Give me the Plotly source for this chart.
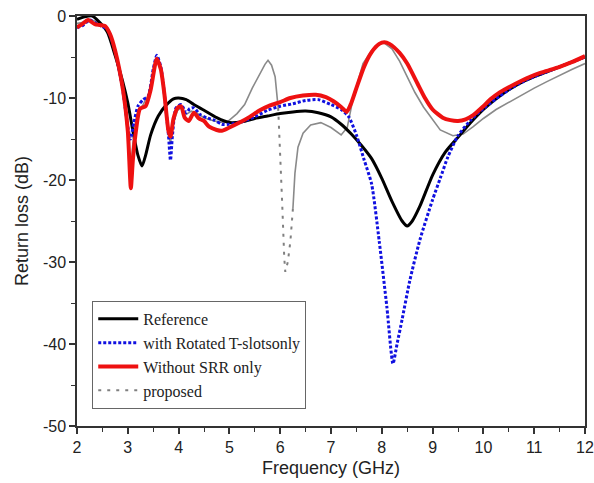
import numpy as np
import plotly.graph_objects as go

# ---------------- data ----------------
ref_f = [2.0, 2.15, 2.3, 2.45, 2.6, 2.75, 2.9, 3.0, 3.1, 3.2, 3.28, 3.35, 3.45, 3.6, 3.75, 3.9, 4.0,
         4.15, 4.3, 4.5, 4.75, 5.0, 5.25, 5.5, 5.75, 6.0, 6.25, 6.5, 6.75, 7.0, 7.2, 7.4, 7.6, 7.8,
         8.0, 8.2, 8.4, 8.5, 8.6, 8.75, 9.0, 9.25, 9.5, 9.75, 10.0, 10.25, 10.5, 10.75, 11.0, 11.25,
         11.5, 11.75, 12.0]
ref_db = [-0.4, -0.1, 0.0, -0.8, -2.0, -4.8, -8.0, -10.6, -14.0, -17.0, -18.3, -17.0, -14.5, -12.2,
          -10.9, -10.1, -10.0, -10.2, -10.8, -11.5, -12.4, -13.0, -12.9, -12.5, -12.2, -11.9, -11.7,
          -11.6, -11.8, -12.3, -13.2, -14.4, -15.8, -17.4, -19.8, -22.6, -25.0, -25.6, -25.0, -23.2,
          -19.4, -16.6, -14.8, -13.0, -11.4, -10.1, -9.0, -8.1, -7.4, -6.8, -6.2, -5.6, -5.0]

tslot_f = [2.0, 2.1, 2.25, 2.35, 2.5, 2.6, 2.75, 2.9, 3.0, 3.05, 3.12, 3.2, 3.3, 3.4, 3.5, 3.57, 3.65,
           3.72, 3.8, 3.84, 3.88, 3.95, 4.05, 4.15, 4.22, 4.3, 4.42, 4.55, 4.7, 4.85, 5.0, 5.2, 5.5,
           5.75, 6.0, 6.25, 6.5, 6.75, 7.0, 7.2, 7.35, 7.5, 7.65, 7.8, 7.95, 8.1, 8.22, 8.3, 8.4, 8.55,
           8.75, 9.0, 9.15, 9.3, 9.5, 9.75, 10.0, 10.25, 10.5, 10.75, 11.0, 11.25, 11.5, 11.75, 12.0]
tslot_db = [-1.4, -1.2, -0.5, -0.8, -1.3, -1.6, -4.3, -9.0, -13.5, -15.0, -13.0, -11.0, -10.2, -9.8,
            -6.5, -4.8, -6.2, -9.5, -14.5, -17.6, -14.5, -11.2, -10.8, -11.8, -11.3, -11.2, -12.0,
            -12.4, -12.7, -13.2, -13.2, -13.0, -12.3, -11.5, -11.0, -10.7, -10.3, -10.2, -10.8, -11.4,
            -12.3, -14.5, -17.5, -20.5, -27.5, -35.5, -42.4, -40.0, -37.0, -32.3, -27.3, -22.4, -19.8,
            -17.2, -14.6, -12.7, -11.3, -10.1, -9.0, -8.1, -7.4, -6.8, -6.2, -5.6, -5.0]

nosrr_f = [2.0, 2.1, 2.22, 2.35, 2.45, 2.55, 2.65, 2.75, 2.9, 3.0, 3.06, 3.1, 3.15, 3.24, 3.35, 3.45,
           3.57, 3.65, 3.72, 3.8, 3.84, 3.9, 3.98, 4.05, 4.12, 4.2, 4.3, 4.4, 4.5, 4.6, 4.75, 4.85, 5.0,
           5.2, 5.4, 5.6, 5.8, 6.0, 6.2, 6.45, 6.7, 6.9, 7.05, 7.2, 7.31, 7.4, 7.5, 7.65, 7.8, 7.95,
           8.05, 8.15, 8.35, 8.5, 8.7, 8.85, 9.0, 9.2, 9.35, 9.5, 9.65, 9.8, 10.0, 10.15, 10.3, 10.5,
           10.75, 11.0, 11.25, 11.5, 11.75, 12.0]
nosrr_db = [-1.4, -1.0, -0.5, -1.0, -1.1, -1.2, -2.2, -4.2, -8.8, -14.0, -21.0, -17.5, -14.5, -11.3,
            -11.0, -9.0, -5.2, -6.5, -9.5, -14.0, -14.7, -12.5, -11.2, -11.0, -12.4, -12.8, -11.8,
            -12.5, -12.8, -13.5, -13.9, -14.0, -13.6, -13.0, -12.3, -11.5, -10.9, -10.5, -10.0, -9.7,
            -9.6, -9.9, -10.4, -11.1, -11.7, -10.6, -8.8, -6.2, -4.4, -3.4, -3.2, -3.4, -4.5, -5.8,
            -8.2, -10.0, -11.4, -12.4, -12.7, -12.8, -12.6, -12.1, -11.0, -10.1, -9.4, -8.7, -7.9,
            -7.2, -6.7, -6.2, -5.6, -4.9]

prop_f = [2.0, 2.1, 2.2, 2.35, 2.5, 2.6, 2.75, 2.9, 3.0, 3.05, 3.1, 3.18, 3.3, 3.4, 3.5, 3.57, 3.65,
          3.72, 3.8, 3.84, 3.9, 3.98, 4.05, 4.15, 4.25, 4.35, 4.5, 4.7, 4.9, 5.0, 5.15, 5.3, 5.45,
          5.6, 5.7, 5.76, 5.83, 5.9, 5.96, 6.0, 6.04, 6.08, 6.1, 6.15, 6.2, 6.25, 6.29, 6.35, 6.45,
          6.6, 6.8, 7.0, 7.2, 7.32, 7.42, 7.52, 7.63, 7.8, 7.95, 8.05, 8.2, 8.35, 8.5, 8.65, 8.82,
          9.0, 9.15, 9.4, 9.6, 9.8, 10.0, 10.25, 10.5, 10.75, 11.0, 11.25, 11.5, 11.75, 12.0]
prop_db = [-0.9, -0.8, -0.4, -0.6, -1.2, -1.6, -4.6, -9.2, -14.5, -19.8, -15.5, -12.0, -10.8, -9.7,
           -7.0, -5.3, -6.5, -9.5, -14.5, -15.5, -13.0, -11.5, -11.2, -12.0, -11.6, -11.8, -12.4,
           -12.8, -13.0, -12.7, -11.9, -10.8, -8.8, -7.0, -5.9, -5.4, -6.0, -7.4, -11.2, -16.5,
           -23.0, -29.5, -31.2, -30.0, -27.5, -23.5, -19.2, -16.0, -14.3, -13.3, -13.0, -13.6,
           -14.5, -13.6, -10.5, -8.2, -5.8, -4.2, -3.4, -3.3, -4.0, -5.5, -7.4, -9.3, -11.1, -12.7,
           -13.9, -14.6, -14.4, -13.5, -12.5, -11.4, -10.5, -9.6, -8.8, -8.0, -7.2, -6.5, -5.8]

names = ["Reference", "with Rotated\u2009T-slotsonly", "Without SRR only", "proposed"]
x_ticks = [2, 3, 4, 5, 6, 7, 8, 9, 10, 11, 12]
y_ticks = [0, -10, -20, -30, -40, -50]

# ---------------- figure ----------------
pf = np.array(prop_f)
pd_ = np.array(prop_db, dtype=float)
notch = (pf >= 5.96) & (pf <= 6.25)
solid_db = np.where(notch & ~((pf == 5.96) | (pf == 6.25)), np.nan, pd_)
notch_f = pf[notch]
notch_db = pd_[notch]

fig = go.Figure()
fig.add_trace(go.Scatter(x=pf, y=solid_db, mode="lines", showlegend=False,
                         line=dict(color="#8a8a8a", width=1.6), connectgaps=False))
fig.add_trace(go.Scatter(x=ref_f, y=ref_db, mode="lines", name=names[0], legendrank=1,
                         line=dict(color="black", width=3, shape="spline", smoothing=0.6)))
fig.add_trace(go.Scatter(x=tslot_f, y=tslot_db, mode="lines", name=names[1], legendrank=2,
                         line=dict(color="#1010e0", width=3, dash="3px,2px", shape="spline", smoothing=0.6)))
fig.add_trace(go.Scatter(x=nosrr_f, y=nosrr_db, mode="lines", name=names[2], legendrank=3,
                         line=dict(color="#ee1111", width=4, shape="spline", smoothing=0.6)))
fig.add_trace(go.Scatter(x=notch_f, y=notch_db, mode="lines", name=names[3], legendrank=4,
                         line=dict(color="#808080", width=2, dash="3px,6px")))

axis_common = dict(showgrid=False, zeroline=False, showline=True, mirror=True, automargin=False,
                   linecolor="#333333", linewidth=1.5, ticks="outside", ticklen=6,
                   tickwidth=1.5, tickcolor="#333333",
                   tickfont=dict(family="Liberation Sans, Arial", size=16, color="#222222"))

fig.update_xaxes(range=[2, 12], tickvals=x_ticks, ticktext=[str(v) for v in x_ticks],
                 minor=dict(ticks="outside", ticklen=4, tickwidth=1.2, tickcolor="#333333", dtick=0.5),
                 title=dict(text="Frequency (GHz)", standoff=6,
                            font=dict(family="Liberation Sans, Arial", size=18, color="#222222")),
                 **axis_common)
fig.update_yaxes(range=[-50, 0], tickvals=y_ticks, ticktext=[str(v) for v in y_ticks],
                 minor=dict(ticks="outside", ticklen=4, tickwidth=1.2, tickcolor="#333333", dtick=5),
                 title=dict(text="Return loss (dB)", standoff=10,
                            font=dict(family="Liberation Sans, Arial", size=18, color="#222222")),
                 **axis_common)

fig.update_layout(
    width=594, height=483,
    margin=dict(l=77, r=9, t=16, b=57),
    plot_bgcolor="white", paper_bgcolor="white",
    legend=dict(x=0.03, y=0.305, xanchor="left", yanchor="top",
                bgcolor="white", bordercolor="#666666", borderwidth=1,
                font=dict(family="Liberation Serif, Times New Roman", size=16, color="#222222"),
                itemwidth=40, tracegroupgap=0),
)

fig.write_html("out.html")
